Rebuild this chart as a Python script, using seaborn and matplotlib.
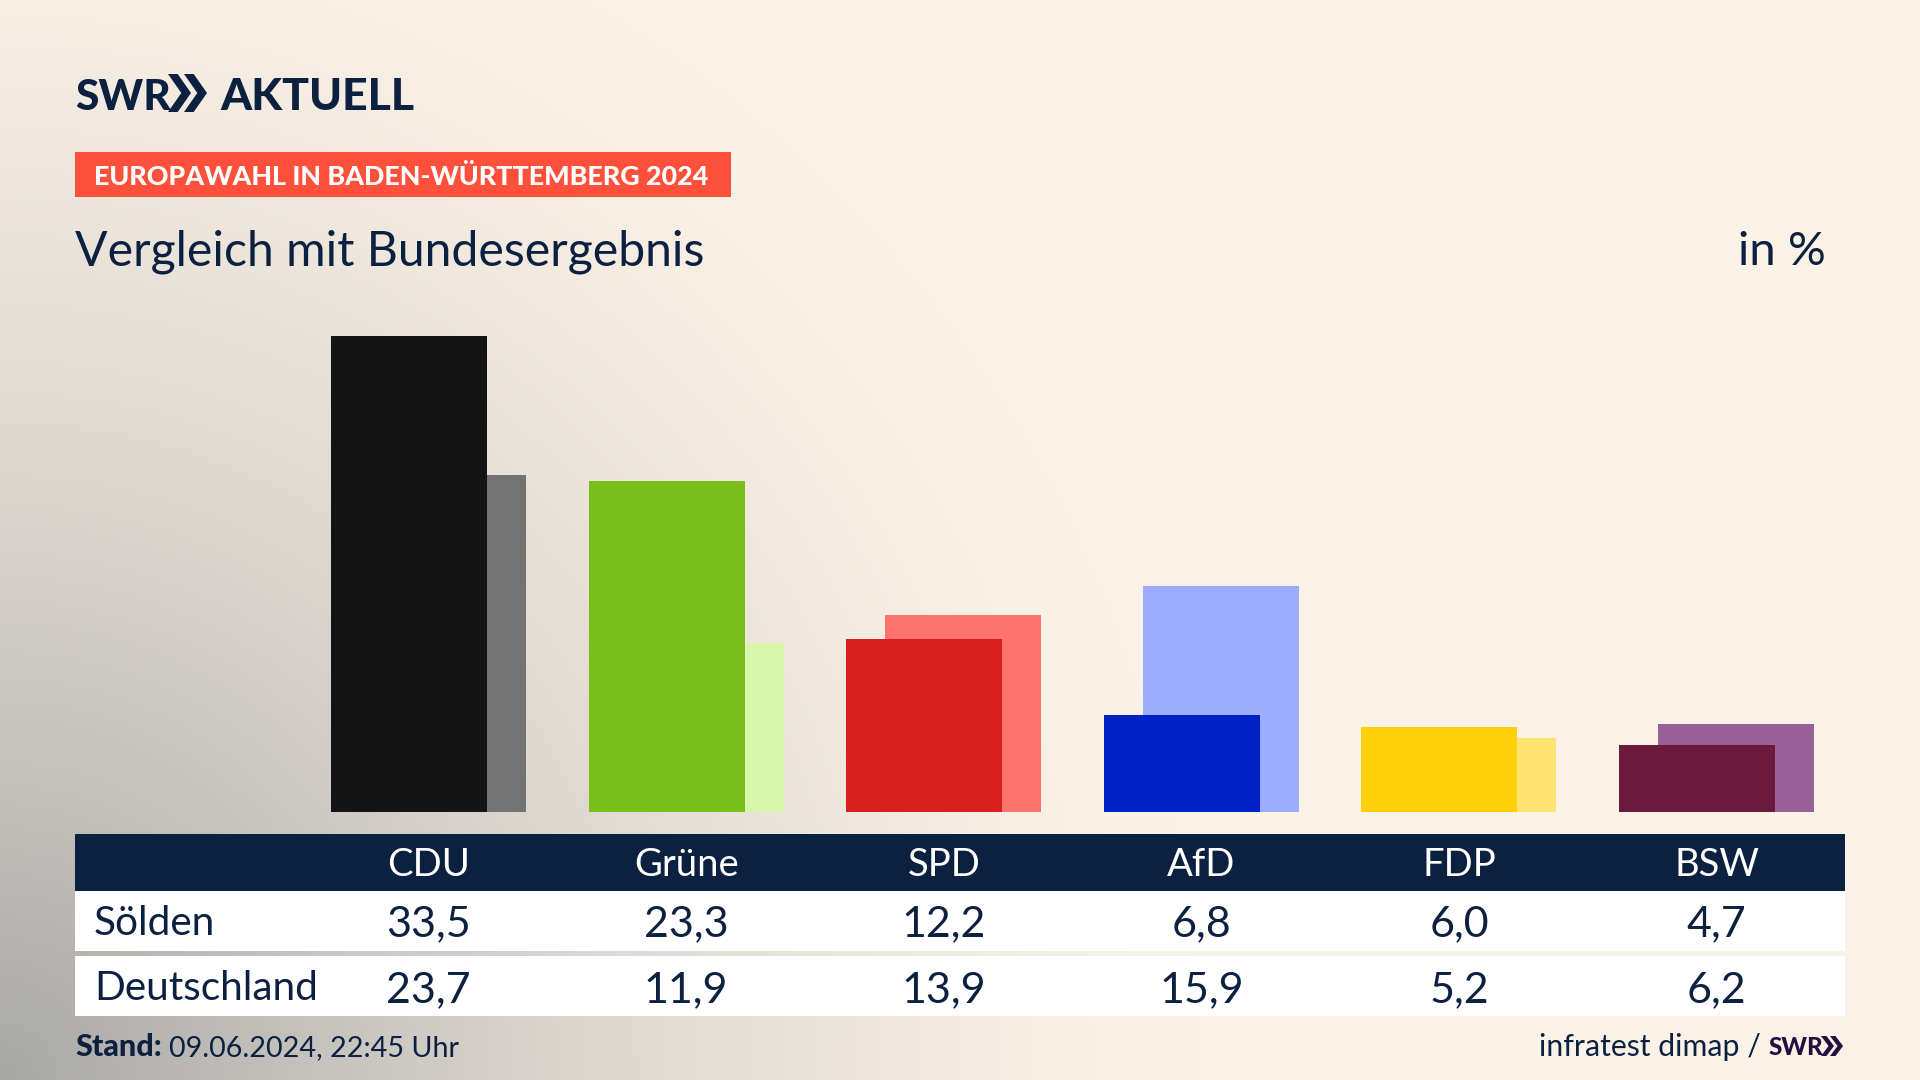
import numpy as np
import pandas as pd
import matplotlib
matplotlib.use("Agg")
import matplotlib.pyplot as plt
from matplotlib.patches import Rectangle, Polygon
import seaborn as sns

parties = ["CDU", "Grüne", "SPD", "AfD", "FDP", "BSW"]
soelden = [33.5, 23.3, 12.2, 6.8, 6.0, 4.7]
deutschland = [23.7, 11.9, 13.9, 15.9, 5.2, 6.2]
front_colors = ["#141414", "#79BE1A", "#D81F1F", "#0021C7", "#FFCF0C", "#6B1A3D"]
back_colors = ["#737373", "#D8F6AC", "#FF736E", "#9CADFF", "#FFE26F", "#9A6098"]
row_labels = ["Sölden", "Deutschland"]

NAVY = "#0C2040"
W, H = 1920, 1080
sns.set_theme(style="white")
plt.rcParams["font.family"] = ["Lato", "DejaVu Sans"]
fig = plt.figure(figsize=(W / 100, H / 100), dpi=100)

# page layer in pixel coordinates
page = fig.add_axes([0, 0, 1, 1])
page.set_xlim(0, W)
page.set_ylim(H, 0)
page.axis("off")
yy, xx = np.mgrid[0:H, 0:W]
d = np.sqrt((xx / 1200.0) ** 2 + ((H - yy) / 1240.0) ** 2)
a = np.clip(1 - d, 0, 1) ** 1.45
base = np.array([251, 242, 231]) / 255
dark = np.array([168, 168, 166]) / 255
bg = base[None, None, :] * (1 - a[..., None]) + dark[None, None, :] * a[..., None]
page.imshow(bg, extent=(0, W, H, 0), aspect="auto", zorder=0)


def rect(x0, y0, x1, y1, c):
    page.add_patch(Rectangle((x0, y0), x1 - x0, y1 - y0, fc=c, ec="none", zorder=1))


def chevrons(x0, y0, h, w, c, gap):
    for k in range(2):
        x = x0 + k * gap
        page.add_patch(Polygon([(x, y0), (x + w * 0.42, y0), (x + w, y0 + h / 2),
                                (x + w * 0.42, y0 + h), (x, y0 + h), (x + w * 0.58, y0 + h / 2)],
                               closed=True, fc=c, ec="none", zorder=2))


# header
page.text(75, 110, "SWR", fontsize=30.5, fontweight="black", color=NAVY, va="baseline", zorder=2)
chevrons(168, 74, 38, 23, NAVY, 16)
page.text(220, 110, "AKTUELL", fontsize=32, fontweight="black", color=NAVY, va="baseline", zorder=2)
rect(75, 152, 731, 197, "#FF503C")
page.text(94, 185, "EUROPAWAHL IN BADEN-WÜRTTEMBERG 2024", fontsize=19.4, fontweight="black",
          color="white", va="baseline", zorder=2)
page.text(75, 265, "Vergleich mit Bundesergebnis", fontsize=34.7, color=NAVY, va="baseline", zorder=2)
page.text(1826, 265, "in %", fontsize=34, color=NAVY, ha="right", va="baseline", zorder=2)

# table
col_x = [428.6 + i * 257.6 for i in range(len(parties))]
rect(75, 834, 1845, 891, NAVY)
rect(75, 891, 1845, 951, "white")
rect(75, 956, 1845, 1016, "white")
for cx, p, s, de in zip(col_x, parties, soelden, deutschland):
    page.text(cx, 876, p, fontsize=27.5, color="white", ha="center", va="baseline", zorder=2)
    page.text(cx, 936, f"{s:.1f}".replace(".", ","), fontsize=31, color=NAVY, ha="center", va="baseline", zorder=2)
    page.text(cx, 1002, f"{de:.1f}".replace(".", ","), fontsize=31, color=NAVY, ha="center", va="baseline", zorder=2)
page.text(94, 935, row_labels[0], fontsize=29.2, color=NAVY, va="baseline", zorder=2)
page.text(94, 1000, row_labels[1], fontsize=29.2, color=NAVY, va="baseline", zorder=2)

# footer
page.text(75, 1056, "Stand:", fontsize=22, fontweight="black", color=NAVY, va="baseline", zorder=2)
page.text(169, 1056, "09.06.2024, 22:45 Uhr", fontsize=20.7, color=NAVY, va="baseline", zorder=2)
page.text(1761, 1056, "infratest dimap /", fontsize=21.8, color=NAVY, ha="right", va="baseline", zorder=2)
page.text(1769, 1055, "SWR", fontsize=17.5, fontweight="black", color="#23103F", va="baseline", zorder=2)
chevrons(1821, 1036, 20, 13, "#23103F", 9)

# bars: axes spans the table width, bar baseline sits at y=812 px
y_top = 270
spacing = 257.5
ax = fig.add_axes([75 / W, 1 - 812 / H, (1845 - 75) / W, (812 - y_top) / H])
ax.patch.set_alpha(0)
offset = 19.5 / spacing
x_front = np.arange(len(parties)) - offset
x_back = np.arange(len(parties)) + offset
df_back = pd.DataFrame({"x": x_back, "v": deutschland, "p": parties})
df_front = pd.DataFrame({"x": x_front, "v": soelden, "p": parties})
sns.barplot(data=df_back, x="x", y="v", hue="p", palette=dict(zip(parties, back_colors)),
            native_scale=True, dodge=False, width=156 / spacing, saturation=1, legend=False,
            linewidth=0, ax=ax, zorder=2)
sns.barplot(data=df_front, x="x", y="v", hue="p", palette=dict(zip(parties, front_colors)),
            native_scale=True, dodge=False, width=156 / spacing, saturation=1, legend=False,
            linewidth=0, ax=ax, zorder=3)
ax.set_xlim((75 - col_x[0]) / spacing, (1845 - col_x[0]) / spacing)
ax.set_ylim(0, (812 - y_top) / 14.2)
ax.set_xlabel("")
ax.set_ylabel("")
ax.set_xticks([])
ax.set_yticks([])
sns.despine(ax=ax, left=True, bottom=True)

fig.savefig("out.png", dpi=100)
